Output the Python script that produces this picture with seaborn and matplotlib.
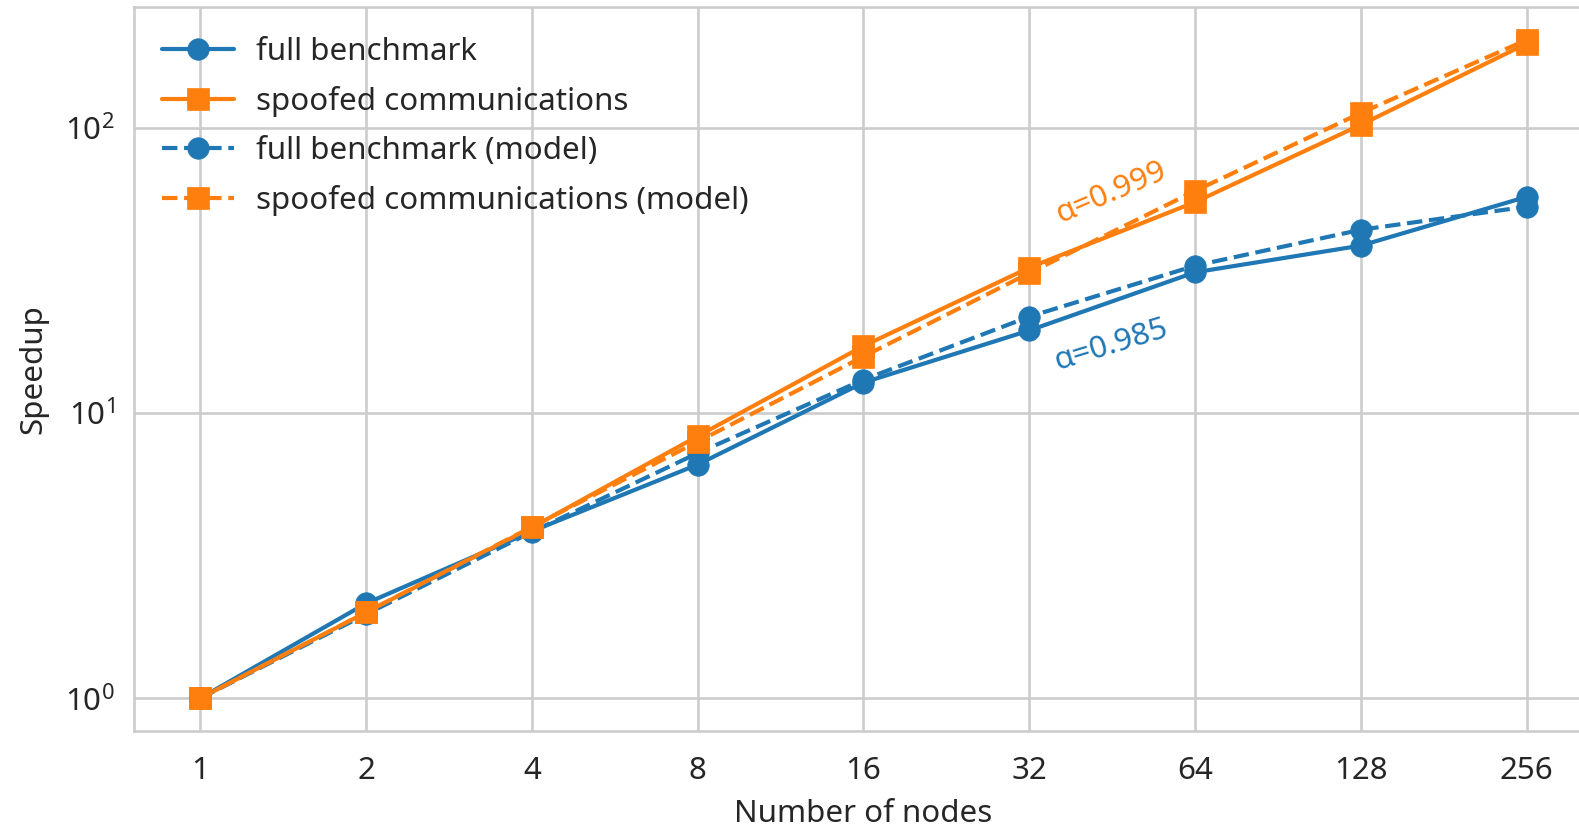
import matplotlib
matplotlib.use("Agg")
import matplotlib.pyplot as plt
import seaborn as sns
import pandas as pd

# ---- data ----
nodes = [1, 2, 4, 8, 16, 32, 64, 128, 256]
full_benchmark = [1.0, 2.15, 3.85, 6.6, 12.8, 19.5, 31.2, 38.7, 57.4]
spoofed_comm = [1.0, 2.0, 3.97, 8.3, 17.2, 32.4, 55.0, 102.7, 198.0]
full_model = [1.0, 1.97, 3.83, 7.24, 13.1, 21.8, 32.9, 44.0, 53.0]
spoofed_model = [1.0, 2.0, 3.99, 7.94, 15.8, 31.0, 60.2, 113.0, 204.0]
series_labels = ["full benchmark", "spoofed communications",
                 "full benchmark (model)", "spoofed communications (model)"]
alpha_labels = ["α=0.999", "α=0.985"]
x_label = "Number of nodes"
y_label = "Speedup"

sns.set_theme(style="whitegrid")
plt.rcParams['font.family'] = ['Noto Sans', 'DejaVu Sans']
plt.rcParams['axes.edgecolor'] = '#cccccc'
plt.rcParams['grid.color'] = '#cccccc'

BLUE = "#1f77b4"
ORANGE = "#ff7f0e"
FS = 22.5

fig = plt.figure(figsize=(15.79, 8.33), dpi=100)
ax = fig.add_axes([134 / 1579, 1 - 731 / 833, (1593 - 134) / 1579, (731 - 7) / 833])

styles = [
    (full_benchmark, BLUE, "o", "-"),
    (spoofed_comm, ORANGE, "s", "-"),
    (full_model, BLUE, "o", "--"),
    (spoofed_model, ORANGE, "s", "--"),
]
for (vals, col, mk, ls), lab in zip(styles, series_labels):
    df = pd.DataFrame({"nodes": nodes, "speedup": vals})
    sns.lineplot(data=df, x="nodes", y="speedup", ax=ax, color=col, marker=mk,
                 linestyle=ls, linewidth=3.0, markersize=15.5,
                 markeredgecolor=col, markeredgewidth=0.5, label=lab)

ax.set_xscale("log", base=2)
ax.set_yscale("log")
ax.set_xlim(0.758, 337.8)
ax.set_ylim(0.767, 266)
ax.set_xticks(nodes)
ax.set_xticklabels([str(n) for n in nodes])
ax.xaxis.set_minor_locator(matplotlib.ticker.NullLocator())
ax.yaxis.set_minor_locator(matplotlib.ticker.NullLocator())

for sp in ax.spines.values():
    sp.set_linewidth(1.9)
    sp.set_color('#cccccc')
ax.spines['right'].set_visible(False)
ax.grid(True, linewidth=1.9, color='#cccccc')

ax.tick_params(axis='x', labelsize=FS, pad=18, length=0, colors='#262626')
ax.tick_params(axis='y', labelsize=FS, pad=14, length=0, colors='#262626')
ax.set_xlabel(x_label, fontsize=FS, labelpad=9, color='#262626')
ax.set_ylabel(y_label, fontsize=FS, labelpad=12, color='#262626')

ax.text(36.4, 46.4, alpha_labels[0], color=ORANGE, fontsize=22.5,
        rotation=23, ha='left', va='baseline', rotation_mode='anchor')
ax.text(36.0, 14.2, alpha_labels[1], color=BLUE, fontsize=22.5,
        rotation=17, ha='left', va='baseline', rotation_mode='anchor')

leg = ax.legend(loc="upper left", frameon=False, fontsize=FS, handlelength=2.3,
                handletextpad=0.7, labelspacing=0.6,
                bbox_to_anchor=(0.0, 0.997))
for t in leg.get_texts():
    t.set_color('#262626')

fig.savefig("out.png", dpi=100)
